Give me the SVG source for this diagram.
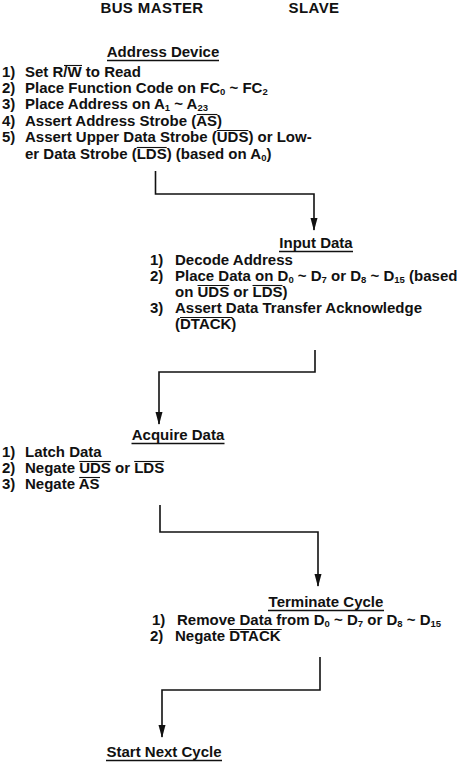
<svg xmlns="http://www.w3.org/2000/svg" width="474" height="772" viewBox="0 0 474 772">
<style>
  text { font-family: "Liberation Sans", Arial, sans-serif; font-weight: bold; font-size: 15px; fill: #111; }
  .hdr { font-size: 15px; letter-spacing: 0.4px; }
  .sb { font-size: 9.5px; }
  .ul { stroke: #111; stroke-width: 1.3; }
  .ov { stroke: #111; stroke-width: 1.1; }
  .conn { fill: none; stroke: #111; stroke-width: 1.6; }
</style>
<defs>
  <marker id="ah" markerUnits="userSpaceOnUse" markerWidth="14" markerHeight="8" viewBox="0 -4 14 8" refX="12" refY="0" orient="auto">
    <path d="M0,-3.5 L13,0 L0,3.5 Z" fill="#111"/>
  </marker>
</defs>
<rect width="474" height="772" fill="#fff"/>

<g id="headers">
  <text class="hdr" x="152" y="13" text-anchor="middle">BUS MASTER</text>
  <text class="hdr" x="314" y="13" text-anchor="middle">SLAVE</text>
</g>

<g id="address-device">
  <text x="163" y="57" text-anchor="middle">Address Device</text>
  <line class="ul" x1="107" y1="60.5" x2="219" y2="60.5"/>
  <text x="2" y="77">1)</text><text x="25" y="77">Set R/W to Read</text>
  <line class="ov" x1="64" y1="65.5" x2="82" y2="65.5"/>
  <text x="2" y="93">2)</text><text x="25" y="93">Place Function Code on FC<tspan class="sb" dy="2">0</tspan><tspan dy="-2"> ~ FC</tspan><tspan class="sb" dy="2">2</tspan></text>
  <text x="2" y="109">3)</text><text x="25" y="109">Place Address on A<tspan class="sb" dy="2">1</tspan><tspan dy="-2"> ~ A</tspan><tspan class="sb" dy="2">23</tspan></text>
  <text x="2" y="126">4)</text><text x="25" y="126">Assert Address Strobe (AS)</text>
  <line class="ov" x1="196.7" y1="114.5" x2="217.5" y2="114.5"/>
  <text x="2" y="142">5)</text><text x="25" y="142">Assert Upper Data Strobe (UDS) or Low-</text>
  <line class="ov" x1="216.7" y1="130.5" x2="248.4" y2="130.5"/>
  <text x="25" y="159">er Data Strobe (LDS) (based on A<tspan class="sb" dy="2">0</tspan><tspan dy="-2">)</tspan></text>
  <line class="ov" x1="136.7" y1="147.5" x2="166.7" y2="147.5"/>
</g>

<g id="input-data">
  <text x="316" y="248" text-anchor="middle">Input Data</text>
  <line class="ul" x1="279" y1="251.5" x2="353" y2="251.5"/>
  <text x="150" y="265">1)</text><text x="175" y="265">Decode Address</text>
  <text x="150" y="281">2)</text><text x="175" y="281">Place Data on D<tspan class="sb" dy="2">0</tspan><tspan dy="-2"> ~ D</tspan><tspan class="sb" dy="2">7</tspan><tspan dy="-2"> or D</tspan><tspan class="sb" dy="2">8</tspan><tspan dy="-2"> ~ D</tspan><tspan class="sb" dy="2">15</tspan><tspan dy="-2">  (based</tspan></text>
  <text x="175" y="297">on UDS or LDS)</text>
  <line class="ov" x1="197.5" y1="285.5" x2="229.2" y2="285.5"/>
  <line class="ov" x1="252.5" y1="285.5" x2="282.5" y2="285.5"/>
  <text x="150" y="313">3)</text><text x="175" y="313">Assert Data Transfer Acknowledge</text>
  <text x="175" y="329">(DTACK)</text>
  <line class="ov" x1="180" y1="317.5" x2="232.5" y2="317.5"/>
</g>

<g id="acquire-data">
  <text x="178" y="440" text-anchor="middle">Acquire Data</text>
  <line class="ul" x1="131.5" y1="443.5" x2="224.5" y2="443.5"/>
  <text x="2" y="457">1)</text><text x="25" y="457">Latch Data</text>
  <text x="2" y="473">2)</text><text x="25" y="473">Negate UDS or LDS</text>
  <line class="ov" x1="79.2" y1="461.5" x2="110.9" y2="461.5"/>
  <line class="ov" x1="134.2" y1="461.5" x2="164.2" y2="461.5"/>
  <text x="2" y="489">3)</text><text x="25" y="489">Negate AS</text>
  <line class="ov" x1="79.2" y1="477.5" x2="100" y2="477.5"/>
</g>

<g id="terminate-cycle">
  <text x="326" y="607" text-anchor="middle">Terminate Cycle</text>
  <line class="ul" x1="268" y1="610.5" x2="384" y2="610.5"/>
  <text x="152" y="625">1)</text><text x="177" y="625">Remove Data from D<tspan class="sb" dy="2">0</tspan><tspan dy="-2"> ~ D</tspan><tspan class="sb" dy="2">7</tspan><tspan dy="-2"> or D</tspan><tspan class="sb" dy="2">8</tspan><tspan dy="-2"> ~ D</tspan><tspan class="sb" dy="2">15</tspan></text>
  <text x="150" y="641">2)</text><text x="175" y="641">Negate DTACK</text>
  <line class="ov" x1="229.2" y1="629.5" x2="281.7" y2="629.5"/>
</g>

<g id="start-next-cycle">
  <text x="164" y="757" text-anchor="middle">Start Next Cycle</text>
  <line class="ul" x1="106" y1="760.5" x2="222" y2="760.5"/>
</g>

<g id="connectors">
  <path class="conn" d="M155.5,171 V194 H314 V230" marker-end="url(#ah)"/>
  <path class="conn" d="M315,350 V372 H159 V424" marker-end="url(#ah)"/>
  <path class="conn" d="M160,505 V532 H318 V586" marker-end="url(#ah)"/>
  <path class="conn" d="M320,657 V690 H162 V737" marker-end="url(#ah)"/>
</g>
</svg>
